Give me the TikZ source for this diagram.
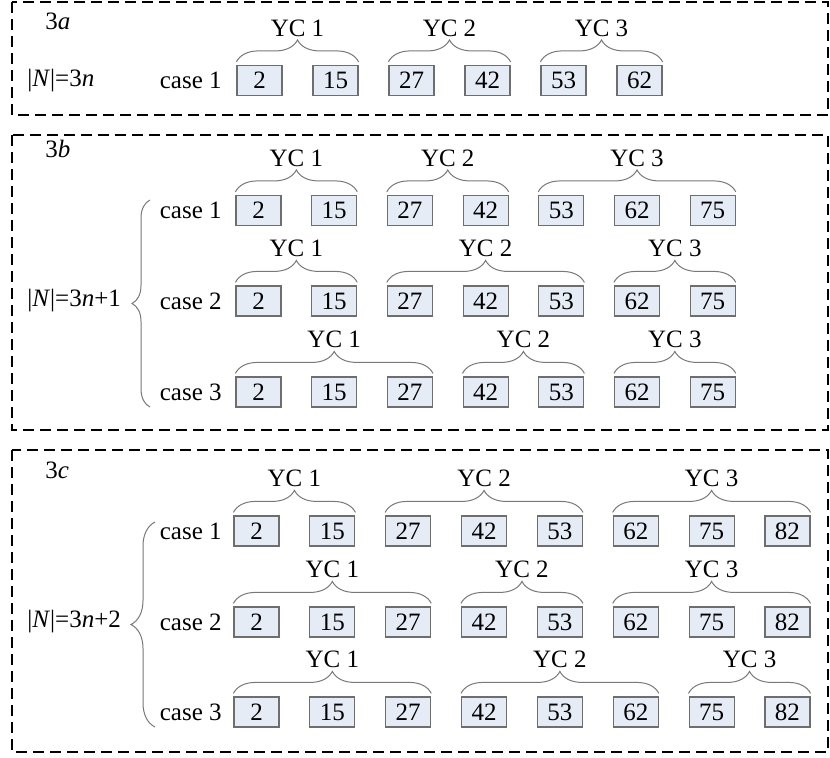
\documentclass[tikz,border=0pt]{standalone}
\usepackage{fontspec}
\setmainfont{Liberation Serif}
\usetikzlibrary{decorations.pathreplacing,calc}
\definecolor{boxfill}{RGB}{230,236,246}
\definecolor{boxline}{RGB}{110,110,110}
\definecolor{bracecol}{RGB}{120,120,120}
\tikzset{
 numbox/.style={draw=boxline, fill=boxfill, line width=0.6pt, minimum width=22.5pt, minimum height=15pt, inner sep=0pt, font=\fontsize{12.5}{14}\selectfont},
 lbl/.style={font=\fontsize{12.5}{14}\selectfont, inner sep=0pt},
 ycbrace/.style={draw=bracecol, line width=0.5pt, decorate, decoration={brace, amplitude=11pt, raise=1.5pt}},
 bigbrace/.style={draw=bracecol, line width=0.5pt, decorate, decoration={brace, amplitude=#1}},
 frame/.style={draw=black, line width=0.8pt, dash pattern=on 5.5pt off 3pt},
}
\begin{document}
\begin{tikzpicture}[x=0.5pt,y=-0.5pt]
\useasboundingbox (0,0) rectangle (830,757);
% frames
\draw[frame] (12,2) rectangle (828,115);
\draw[frame] (12,135) rectangle (828,430);
\draw[frame] (12,450) rectangle (828,752);
% section labels
\node[lbl, anchor=west] (la) at (45,21) {3\textit{a}};
\node[lbl, anchor=west] (lb) at (45,149) {3\textit{b}};
\node[lbl, anchor=west] (lc) at (45,470) {3\textit{c}};
\node[lbl, anchor=west] (na) at (27,80.5) {|\textit{N}|=3\textit{n}};
\node[lbl, anchor=west] (nb) at (27,301) {|\textit{N}|=3\textit{n}+1};
\node[lbl, anchor=west] (nc) at (27,622) {|\textit{N}|=3\textit{n}+2};
% ---- 3a
\node[lbl, anchor=east] (ca1) at (222,80.5) {case 1};
\foreach \v [count=\i from 0] in {2,15,27,42,53,62}
  \node[numbox] (a1-\i) at ({259.5+\i*76},80.5) {\v};
\draw[ycbrace] (a1-0.north west) -- node[lbl, above=14pt]{YC 1} (a1-1.north east);
\draw[ycbrace] (a1-2.north west) -- node[lbl, above=14pt]{YC 2} (a1-3.north east);
\draw[ycbrace] (a1-4.north west) -- node[lbl, above=14pt]{YC 3} (a1-5.north east);
% ---- 3b
\foreach \r/\y in {1/210.5,2/301,3/392}{
  \node[lbl, anchor=east] (cb\r) at (222,\y) {case \r};
  \foreach \v [count=\i from 0] in {2,15,27,42,53,62,75}
    \node[numbox] (b\r-\i) at ({258.5+\i*75.7},\y) {\v};
}
\draw[ycbrace] (b1-0.north west) -- node[lbl, above=14pt]{YC 1} (b1-1.north east);
\draw[ycbrace] (b1-2.north west) -- node[lbl, above=14pt]{YC 2} (b1-3.north east);
\draw[ycbrace] (b1-4.north west) -- node[lbl, above=14pt]{YC 3} (b1-6.north east);
\draw[ycbrace] (b2-0.north west) -- node[lbl, above=14pt]{YC 1} (b2-1.north east);
\draw[ycbrace] (b2-2.north west) -- node[lbl, above=14pt]{YC 2} (b2-4.north east);
\draw[ycbrace] (b2-5.north west) -- node[lbl, above=14pt]{YC 3} (b2-6.north east);
\draw[ycbrace] (b3-0.north west) -- node[lbl, above=14pt]{YC 1} (b3-2.north east);
\draw[ycbrace] (b3-3.north west) -- node[lbl, above=14pt]{YC 2} (b3-4.north east);
\draw[ycbrace] (b3-5.north west) -- node[lbl, above=14pt]{YC 3} (b3-6.north east);
\coordinate (bb1) at (150,407);
\coordinate (bb2) at (150,200);
\draw[bigbrace=9pt] (bb1) -- (bb2);
% ---- 3c
\foreach \r/\y in {1/531,2/622,3/712}{
  \node[lbl, anchor=east] (cc\r) at (222,\y) {case \r};
  \foreach \v [count=\i from 0] in {2,15,27,42,53,62,75,82}
    \node[numbox] (c\r-\i) at ({256.5+\i*75.85},\y) {\v};
}
\draw[ycbrace] (c1-0.north west) -- node[lbl, above=14pt]{YC 1} (c1-1.north east);
\draw[ycbrace] (c1-2.north west) -- node[lbl, above=14pt]{YC 2} (c1-4.north east);
\draw[ycbrace] (c1-5.north west) -- node[lbl, above=14pt]{YC 3} (c1-7.north east);
\draw[ycbrace] (c2-0.north west) -- node[lbl, above=14pt]{YC 1} (c2-2.north east);
\draw[ycbrace] (c2-3.north west) -- node[lbl, above=14pt]{YC 2} (c2-4.north east);
\draw[ycbrace] (c2-5.north west) -- node[lbl, above=14pt]{YC 3} (c2-7.north east);
\draw[ycbrace] (c3-0.north west) -- node[lbl, above=14pt]{YC 1} (c3-2.north east);
\draw[ycbrace] (c3-3.north west) -- node[lbl, above=14pt]{YC 2} (c3-5.north east);
\draw[ycbrace] (c3-6.north west) -- node[lbl, above=14pt]{YC 3} (c3-7.north east);
\coordinate (cb1) at (155,727);
\coordinate (cb2) at (155,522);
\draw[bigbrace=12pt] (cb1) -- (cb2);
\end{tikzpicture}
\end{document}
